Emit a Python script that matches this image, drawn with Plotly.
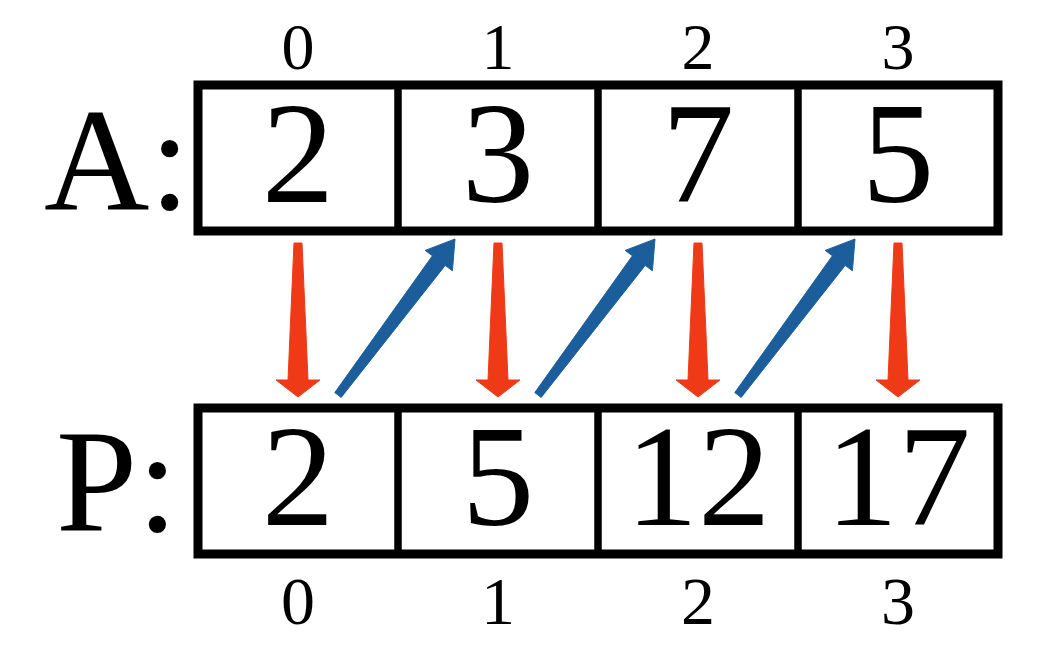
import plotly.graph_objects as go

# Data: the array A and its prefix sums P
indices = [0, 1, 2, 3]
a_values = [2, 3, 7, 5]
p_values = [2, 5, 12, 17]
row_names = ["A:", "P:"]

# pixel geometry (page body has an 8px margin, so the figure is shifted)
W, H = 1030, 635
X0, SX = 290, 200      # pixel of cell 0 centre, pixels per cell
Y0, SY = 473, 323      # pixel of P row centre, pixels per row
ROW_A, ROW_P = 1, 0
HALF_H = 73 / SY

RED = "#EE3A16"
BLUE = "#1C5E9C"
FONT = "Liberation Serif"

fig = go.Figure()

# cell boxes
for row in (ROW_A, ROW_P):
    for i in indices:
        fig.add_shape(type="rect", x0=i - 0.5, x1=i + 0.5,
                      y0=row - HALF_H, y1=row + HALF_H,
                      line=dict(color="black", width=7), layer="below")
    fig.add_shape(type="rect", x0=indices[0] - 0.5, x1=indices[-1] + 0.5,
                  y0=row - HALF_H, y1=row + HALF_H,
                  line=dict(color="black", width=9), layer="below")

# red arrows: A[i] goes down into P[i]
for i in indices:
    top = ROW_A - HALF_H - 12 / SY
    pts = [(-4, 0), (4, 0), (10, 137), (22, 137), (0, 154),
           (-22, 137), (-10, 137), (-4, 0)]
    xs = [i + dx / SX for dx, dy in pts]
    ys = [top - dy / SY for dx, dy in pts]
    fig.add_trace(go.Scatter(x=xs, y=ys, mode="lines", fill="toself",
                             fillcolor=RED, line=dict(color=RED, width=1),
                             hoverinfo="skip"))

# blue arrows: P[i] carried up to A[i+1]
for i in indices[:-1]:
    tail_x, tail_y = i + 40 / SX, ROW_P + 86 / SY
    tip_x, tip_y = i + 157 / SX, ROW_A - HALF_H - 8 / SY
    # work in pixel offsets, y pointing up
    dx, dy = (tip_x - tail_x) * SX, (tip_y - tail_y) * SY
    L = (dx ** 2 + dy ** 2) ** 0.5
    ux, uy = dx / L, dy / L
    nx, ny = -uy, ux
    head, hw = 27, 17
    bx, by = dx - ux * head, dy - uy * head
    pts = [(nx * 4, ny * 4), (bx + nx * 8, by + ny * 8), (bx + nx * hw, by + ny * hw),
           (dx, dy), (bx - nx * hw, by - ny * hw), (bx - nx * 8, by - ny * 8),
           (-nx * 4, -ny * 4), (nx * 4, ny * 4)]
    xs = [tail_x + px / SX for px, py in pts]
    ys = [tail_y + py / SY for px, py in pts]
    fig.add_trace(go.Scatter(x=xs, y=ys, mode="lines", fill="toself",
                             fillcolor=BLUE, line=dict(color=BLUE, width=1),
                             hoverinfo="skip"))

# cell values
VAL_DY = -8 / SY
fig.add_trace(go.Scatter(x=indices, y=[ROW_A + VAL_DY] * 4, mode="text",
                         text=[str(v) for v in a_values],
                         textfont=dict(family=FONT, size=145, color="black"),
                         hoverinfo="skip"))
fig.add_trace(go.Scatter(x=indices, y=[ROW_P + VAL_DY] * 4, mode="text",
                         text=[str(v) for v in p_values],
                         textfont=dict(family=FONT, size=145, color="black"),
                         hoverinfo="skip"))

# index labels
fig.add_trace(go.Scatter(x=indices, y=[ROW_A + 106 / SY] * 4, mode="text",
                         text=[str(i) for i in indices],
                         textfont=dict(family=FONT, size=66, color="black"),
                         hoverinfo="skip"))
fig.add_trace(go.Scatter(x=indices, y=[ROW_P - 126 / SY] * 4, mode="text",
                         text=[str(i) for i in indices],
                         textfont=dict(family=FONT, size=68, color="black"),
                         hoverinfo="skip"))

# row names
fig.add_trace(go.Scatter(x=[-0.905, -0.905], y=[ROW_A - 14 / SY, ROW_P - 13 / SY],
                         mode="text", text=row_names,
                         textfont=dict(family=FONT, size=146, color="black"),
                         hoverinfo="skip"))

fig.update_layout(
    width=W, height=H,
    margin=dict(l=0, r=0, t=0, b=0),
    paper_bgcolor="white", plot_bgcolor="white",
    showlegend=False,
    xaxis=dict(range=[-X0 / SX, (W - X0) / SX], visible=False, fixedrange=True),
    yaxis=dict(range=[(Y0 - H) / SY, Y0 / SY], visible=False, fixedrange=True),
)

fig.write_html("out.html")
